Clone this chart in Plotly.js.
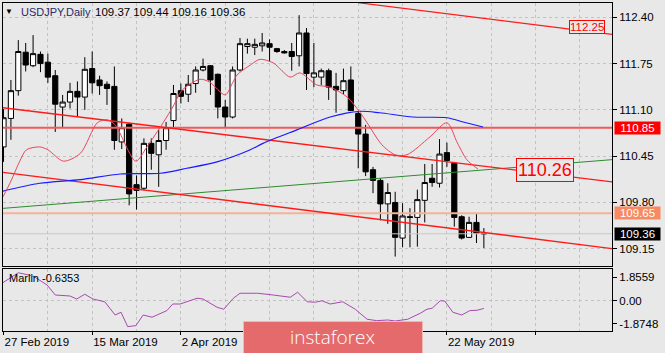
<!DOCTYPE html>
<html><head><meta charset="utf-8">
<script src="https://cdn.plot.ly/plotly-3.0.1.min.js"></script>
<style>html,body{margin:0;padding:0;background:#e8e8e8;overflow:hidden}#chart{width:665px;height:353px}</style>
</head><body><div id="chart"></div>
<script>
// ---- data ----
const dates = ['2019-02-27','2019-02-28','2019-03-01','2019-03-04','2019-03-05','2019-03-06','2019-03-07','2019-03-08',
'2019-03-11','2019-03-12','2019-03-13','2019-03-14','2019-03-15','2019-03-18','2019-03-19','2019-03-20','2019-03-21','2019-03-22',
'2019-03-25','2019-03-26','2019-03-27','2019-03-28','2019-03-29','2019-04-01','2019-04-02','2019-04-03','2019-04-04','2019-04-05',
'2019-04-08','2019-04-09','2019-04-10','2019-04-11','2019-04-12','2019-04-15','2019-04-16','2019-04-17','2019-04-18','2019-04-19',
'2019-04-22','2019-04-23','2019-04-24','2019-04-25','2019-04-26','2019-04-29','2019-04-30','2019-05-01','2019-05-02','2019-05-03',
'2019-05-06','2019-05-07','2019-05-08','2019-05-09','2019-05-10','2019-05-13','2019-05-14','2019-05-15','2019-05-16','2019-05-17',
'2019-05-20','2019-05-21','2019-05-22','2019-05-23','2019-05-24','2019-05-27','2019-05-28','2019-05-29'];
const open  = [110.58,110.98,111.37,111.91,111.72,111.88,111.77,111.58,111.14,111.21,111.36,111.28,111.68,111.52,111.46,111.43,110.65,110.90,
110.05,110.00,110.63,110.47,110.67,110.95,111.37,111.32,111.47,111.66,111.72,111.60,111.14,111.00,111.66,111.99,111.98,112.00,112.03,111.96,
111.92,111.92,111.86,112.18,111.56,111.56,111.65,111.43,111.37,111.52,111.05,110.76,110.26,110.11,109.78,109.80,109.30,109.60,109.59,109.83,
110.14,110.07,110.50,110.35,109.60,109.31,109.52,109.37];
const high  = [111.11,111.52,112.08,112.04,112.15,111.92,111.89,111.66,111.31,111.48,111.50,111.84,111.92,111.58,111.50,111.71,110.98,110.92,
110.18,110.70,110.70,110.82,110.93,111.45,111.47,111.59,111.71,111.82,111.73,111.61,111.24,111.71,112.11,112.10,112.10,112.18,112.09,111.97,
111.94,112.04,112.43,112.25,112.04,111.68,111.68,111.62,111.68,111.71,111.07,110.89,110.30,110.14,110.07,109.95,109.79,109.72,109.98,110.34,
110.34,110.69,110.64,110.37,109.62,109.60,109.64,109.44];
const low   = [110.37,110.68,111.30,111.64,111.70,111.63,111.48,110.79,110.86,111.12,111.00,111.10,111.33,111.31,111.17,110.54,110.55,109.76,
109.70,109.97,110.26,110.02,110.54,110.85,111.19,111.21,111.34,111.64,111.31,110.98,110.86,110.98,111.64,111.89,111.87,111.92,111.78,111.90,
111.89,111.65,111.71,111.38,111.42,111.45,111.24,111.06,111.32,111.09,110.28,110.17,109.93,109.55,109.50,109.04,109.17,109.17,109.18,109.52,
110.02,110.01,110.30,109.46,109.28,109.30,109.23,109.16];
const close = [110.99,111.37,111.92,111.73,111.89,111.75,111.56,111.18,111.21,111.36,111.28,111.67,111.48,111.44,111.40,110.67,110.85,109.92,
109.97,110.63,110.49,110.67,110.85,111.33,111.29,111.46,111.66,111.71,111.52,111.14,111.00,111.66,112.03,112.03,112.02,112.04,111.98,111.92,
111.90,111.85,112.18,111.61,111.62,111.65,111.42,111.38,111.51,111.09,110.76,110.23,110.11,109.78,109.94,109.31,109.61,109.59,109.84,110.08,
110.08,110.48,110.39,109.59,109.30,109.52,109.37,109.36];

// fast moving average (red) read at key points: bar index, price
const maFastX = [-0.07,1.0,2.2,3.1,4.9,6.0,8.1,10.4,12.7,14.0,15.1,17.9,19.4,21.6,22.9,24.2,26.6,27.9,30.0,31.0,31.6,33.4,34.7,36.5,38.8,40.1,42.4,44.2,46.5,48.2,49.2,51.2,53.0,54.6,57.7,60.0,61.4,62.7,64.2];
const maFast  = [109.88,110.10,110.38,110.54,110.58,110.54,110.38,110.49,110.92,110.96,110.89,110.38,110.58,110.92,111.14,111.38,111.53,111.49,111.31,111.48,111.59,111.73,111.81,111.76,111.56,111.62,111.45,111.42,111.28,111.07,110.92,110.61,110.47,110.47,110.72,110.92,110.64,110.40,110.27];
// slow moving average (blue)
const maSlowX = [-0.07,4.9,10.4,15.8,21.2,24.8,28.9,33.4,35.1,39.7,44.2,48.2,50.9,55.4,60.0,62.2,64.9];
const maSlow  = [109.96,110.07,110.12,110.20,110.21,110.28,110.37,110.54,110.63,110.82,111.00,111.08,111.06,111.00,110.99,110.93,110.86];
// Marlin oscillator
const marlinX = [-0.1,2.0,4.0,5.9,7.0,9.0,9.9,11.0,12.1,13.7,15.1,15.9,16.8,17.9,18.9,20.1,22.1,22.9,23.9,26.2,27.0,28.9,29.8,31.1,32.0,34.4,36.5,38.8,39.8,41.1,42.2,43.1,44.2,45.9,47.6,49.2,50.5,52.0,53.0,54.7,56.4,57.3,58.0,59.1,59.7,60.8,62.0,63.1,64.1,65.0];
const marlin  = [1.42,2.22,1.96,1.24,0.44,0.36,0.12,0.50,0.12,-0.10,-1.16,-0.94,-2.09,-2.01,-1.16,-1.34,-0.81,-0.28,-0.28,0.18,0.12,-0.54,-0.70,0.18,0.58,0.58,0.44,0.26,0.66,-0.10,-0.14,-0.02,-0.28,-0.10,-0.70,-1.50,-1.61,-1.56,-1.64,-1.50,-1.02,-0.70,-0.62,-0.02,-0.04,-0.94,-1.16,-0.81,-0.78,-0.6353];
const marlinLast = -0.6353;

// trend lines: [start index, end index], [start price, end price]
const chanUpperX = [-0.07,82.34], chanUpper = [111.13,110.09];
const chanLowerX = [-0.07,82.34], chanLower = [110.223,109.153];
const topLineX   = [47.97,82.34], topLine   = [112.605,112.161];
const greenLineX = [-0.07,82.34], greenLine = [109.717,110.401];
// horizontal levels
const levelRed = 110.85, levelSalmon = 109.65;
// text labels on chart: index, price, value
const labelTop = [79.0, 112.26, '112.25'];
const labelMid = [73.3, 110.26, '110.26'];

const priceTicks  = [109.15,109.80,110.45,111.10,111.75,112.40];
const marlinTicks = [1.8559,0,-1.8748];
const marlinTickText = ['1.8559','0.00','-1.8748'];
const dateTickIdx = [0,12,24,36,48,60,72];
const dateTickShown = [true,true,true,false,false,true,false];
const gridMinorIdx = [6,18,30,42,54,66,78];

// ---- helpers ----
const MON = ['Jan','Feb','Mar','Apr','May','Jun','Jul','Aug','Sep','Oct','Nov','Dec'];
function fmt(d){ const p=d.split('-'); return (+p[2])+' '+MON[+p[1]-1]+' '+p[0]; }
const idx = dates.map((d,i)=>i);
const last = close.length-1;

const BG = '#e8e8e8';
const GRID = '#c2c2c2';
const DASH = '3px,3px';
const XR = [-0.07, 82.34];
const FONT = 'Liberation Sans, Arial, sans-serif';

const traces = [
  {type:'scatter', mode:'lines', x:XR, y:[close[last],close[last]], line:{color:'#c8c8c8', width:1}, xaxis:'x', yaxis:'y'},
  {type:'scatter', mode:'lines', x:XR, y:[levelRed,levelRed], line:{color:'#f05a5a', width:2}, xaxis:'x', yaxis:'y'},
  {type:'scatter', mode:'lines', x:XR, y:[levelSalmon,levelSalmon], line:{color:'#f4b29a', width:2}, xaxis:'x', yaxis:'y'},
  {type:'scatter', mode:'lines', x:XR, y:[0,0], line:{color:GRID, width:1, dash:DASH}, xaxis:'x2', yaxis:'y2'},
  {type:'scatter', mode:'lines', x:greenLineX, y:greenLine, line:{color:'#2f8a2f', width:1}, xaxis:'x', yaxis:'y'},
  {type:'scatter', mode:'lines', x:chanUpperX, y:chanUpper, line:{color:'#ff1a1a', width:1.3}, xaxis:'x', yaxis:'y'},
  {type:'scatter', mode:'lines', x:chanLowerX, y:chanLower, line:{color:'#ff1a1a', width:1.3}, xaxis:'x', yaxis:'y'},
  {type:'scatter', mode:'lines', x:topLineX, y:topLine, line:{color:'#ff1a1a', width:1.3}, xaxis:'x', yaxis:'y'},
  {type:'candlestick', x:idx, open:open, high:high, low:low, close:close, xaxis:'x', yaxis:'y',
   increasing:{line:{color:'#000', width:1}, fillcolor:'#ffffff'},
   decreasing:{line:{color:'#000', width:1}, fillcolor:'#000000'},
   whiskerwidth:0},
  {type:'scatter', mode:'lines', x:maSlowX, y:maSlow, line:{color:'#1a1aff', width:1.2, shape:'spline', smoothing:0.8}, xaxis:'x', yaxis:'y'},
  {type:'scatter', mode:'lines', x:maFastX, y:maFast, line:{color:'#e8465e', width:1, shape:'spline', smoothing:0.8}, xaxis:'x', yaxis:'y'},
  {type:'scatter', mode:'lines', x:marlinX, y:marlin, line:{color:'#a64aae', width:1}, xaxis:'x2', yaxis:'y2'}
];

const ticktext = dateTickIdx.map((v,k)=> (dateTickShown[k] && v<dates.length) ? fmt(dates[v]) : '');

function px2paperX(px){ return (px-3)/609; }
function px2paperY(py){ return (331-py)/328; }

const layout = {
  width:665, height:353,
  margin:{l:3, r:53, t:3, b:22, pad:0},
  paper_bgcolor:BG, plot_bgcolor:BG,
  showlegend:false, hovermode:false, dragmode:false,
  font:{family:FONT, size:11.5, color:'#000'},
  boxgap:0.3, boxgroupgap:0,
  xaxis:{domain:[0,1], anchor:'y', range:XR, type:'linear', tickmode:'array', tickvals:dateTickIdx, showticklabels:false, ticks:'',
    showgrid:true, gridcolor:GRID, griddash:DASH, gridwidth:1,
    minor:{tickmode:'array', tickvals:gridMinorIdx, showgrid:true, gridcolor:GRID, griddash:DASH, gridwidth:1, ticks:''},
    showline:true, mirror:true, linecolor:'#000', linewidth:1, zeroline:false, rangeslider:{visible:false}, fixedrange:true},
  yaxis:{domain:[0.198,1], anchor:'x', side:'right', range:[108.907,112.601], tickmode:'array', tickvals:priceTicks,
    ticktext:priceTicks.map(v=>v.toFixed(2)), ticks:'outside', ticklen:4, tickcolor:'#000',
    showgrid:true, gridcolor:GRID, griddash:DASH, gridwidth:1,
    showline:true, mirror:true, linecolor:'#000', linewidth:1, zeroline:false, fixedrange:true},
  xaxis2:{domain:[0,1], anchor:'y2', range:XR, type:'linear', tickmode:'array', tickvals:dateTickIdx, ticktext:ticktext,
    ticks:'outside', ticklen:3, tickcolor:'#000', ticklabelposition:'outside right',
    showgrid:true, gridcolor:GRID, griddash:DASH, gridwidth:1,
    minor:{tickmode:'array', tickvals:gridMinorIdx, showgrid:true, gridcolor:GRID, griddash:DASH, gridwidth:1, ticks:''},
    showline:true, mirror:true, linecolor:'#000', linewidth:1, zeroline:false, fixedrange:true},
  yaxis2:{domain:[0,0.189], anchor:'x2', side:'right', range:[-2.44,2.52], tickmode:'array', tickvals:marlinTicks, ticktext:marlinTickText,
    ticks:'outside', ticklen:4, tickcolor:'#000', showgrid:false,
    showline:true, mirror:true, linecolor:'#000', linewidth:1, zeroline:false, fixedrange:true},
  shapes:[
    {type:'rect', xref:'paper', yref:'paper', x0:px2paperX(243.5), x1:px2paperX(422.5), y0:px2paperY(360), y1:px2paperY(321.5),
     fillcolor:'#e56a6c', line:{color:'#f2b6b6', width:1}, layer:'above'}
  ],
  annotations:[
    {xref:'paper', yref:'paper', x:px2paperX(9), y:px2paperY(11.5), text:'▼', showarrow:false, font:{size:8, color:'#000'}, xanchor:'center', yanchor:'middle'},
    {xref:'paper', yref:'paper', x:px2paperX(19), y:px2paperY(12), text:'USDJPY,Daily', showarrow:false, font:{size:11, color:'#2a2a6a'}, xanchor:'left', yanchor:'middle'},
    {xref:'paper', yref:'paper', x:px2paperX(93), y:px2paperY(12), text:[open[last],high[last],low[last],close[last]].map(v=>v.toFixed(2)).join(' '), showarrow:false, font:{size:11.5, color:'#000'}, xanchor:'left', yanchor:'middle'},
    {xref:'paper', yref:'paper', x:px2paperX(7), y:px2paperY(278.3), text:'Marlin '+marlinLast.toFixed(4), showarrow:false, font:{size:11, color:'#000'}, xanchor:'left', yanchor:'middle'},
    {xref:'paper', yref:'y', x:1, xshift:2, y:levelRed, text:levelRed.toFixed(2), showarrow:false, xanchor:'left', yanchor:'middle', bgcolor:'#ff0000', font:{size:11.5, color:'#fff'}, width:45, height:12, borderpad:0},
    {xref:'paper', yref:'y', x:1, xshift:2, y:levelSalmon, text:levelSalmon.toFixed(2), showarrow:false, xanchor:'left', yanchor:'middle', bgcolor:'#f88a62', font:{size:11.5, color:'#fff'}, width:45, height:12, borderpad:0},
    {xref:'paper', yref:'y', x:1, xshift:2, y:close[last], text:close[last].toFixed(2), showarrow:false, xanchor:'left', yanchor:'middle', bgcolor:'#000000', font:{size:11.5, color:'#fff'}, width:45, height:12, borderpad:0},
    {xref:'x', yref:'y', x:labelTop[0], y:labelTop[1], text:labelTop[2], showarrow:false, xanchor:'center', yanchor:'middle', bgcolor:BG, bordercolor:'#ff0000', borderwidth:1, borderpad:0, font:{size:11.5, color:'#ff0000'}},
    {xref:'x', yref:'y', x:labelMid[0], y:labelMid[1], text:labelMid[2], showarrow:false, xanchor:'center', yanchor:'middle', bgcolor:BG, bordercolor:'#ff0000', borderwidth:1, borderpad:1, font:{size:18, color:'#ff0000'}},
    {xref:'paper', yref:'paper', x:px2paperX(332), y:px2paperY(336.5), text:'instaforex', showarrow:false, xanchor:'center', yanchor:'middle', font:{family:'Open Sans, sans-serif', size:19, color:'#ffffff', weight:300}}
  ]
};

Plotly.newPlot('chart', traces, layout, {staticPlot:true, displayModeBar:false});
</script>
</body></html>
